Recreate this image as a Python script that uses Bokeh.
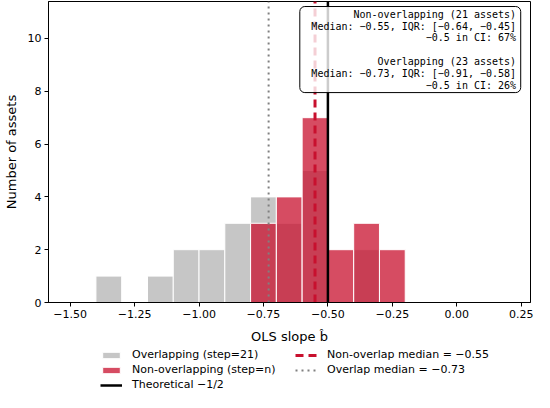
from bokeh.plotting import figure
from bokeh.layouts import column
from bokeh.models import Range1d, FixedTicker, BoxAnnotation, Label, Legend, LegendItem, ColumnDataSource
from bokeh.embed import file_html
from bokeh.resources import INLINE

# ---- data ----
bin_edges = [-1.4, -1.3, -1.2, -1.1, -1.0, -0.9, -0.8, -0.7, -0.6, -0.5, -0.4, -0.3, -0.2]
overlap_counts = [1, 0, 1, 2, 2, 3, 4, 3, 5, 0, 2, 0]
nonoverlap_counts = [0, 0, 0, 0, 0, 0, 3, 4, 7, 2, 3, 2]
median_nonoverlap = -0.55
median_overlap = -0.73
theoretical = -0.5
x_ticks = [-1.5, -1.25, -1.0, -0.75, -0.5, -0.25, 0.0, 0.25]
x_tick_labels = ["\u22121.50", "\u22121.25", "\u22121.00", "\u22120.75", "\u22120.50", "\u22120.25", "0.00", "0.25"]
y_ticks = [0, 2, 4, 6, 8, 10]
y_max = 11.4
summary_lines = [
    "Non-overlapping (21 assets)",
    "Median: \u22120.55, IQR: [\u22120.64, \u22120.45]",
    "\u22120.5 in CI: 67%",
    "",
    "Overlapping (23 assets)",
    "Median: \u22120.73, IQR: [\u22120.91, \u22120.58]",
    "\u22120.5 in CI: 26%",
]
legend_labels = [
    "Overlapping (step=21)",
    "Non-overlapping (step=n)",
    "Theoretical \u22121/2",
    "Non-overlap median = \u22120.55",
    "Overlap median = \u22120.73",
]

FONT = "DejaVu Sans"
RED = "#c8102e"
GRAY_LINE = "#808080"
DOT = "2 4"
DASH = "8 5"


def bars(counts):
    left, right, top = [], [], []
    for i, c in enumerate(counts):
        if c > 0:
            left.append(bin_edges[i])
            right.append(bin_edges[i + 1])
            top.append(c)
    return ColumnDataSource(dict(left=left, right=right, top=top, bottom=[0] * len(top)))


def vline(x):
    return ColumnDataSource(dict(x0=[x], x1=[x], y0=[0], y1=[y_max]))


src_over = bars(overlap_counts)
src_non = bars(nonoverlap_counts)
src_overmed = vline(median_overlap)
src_nonmed = vline(median_nonoverlap)
src_theo = vline(theoretical)


def draw(fig):
    ro = fig.quad(left="left", right="right", top="top", bottom="bottom", source=src_over,
                  fill_color="#808080", fill_alpha=0.45, line_color="white", line_width=1)
    rn = fig.quad(left="left", right="right", top="top", bottom="bottom", source=src_non,
                  fill_color=RED, fill_alpha=0.75, line_color="white", line_width=1)
    lo = fig.segment(x0="x0", x1="x1", y0="y0", y1="y1", source=src_overmed,
                     line_color=GRAY_LINE, line_width=2, line_dash=DOT)
    ln = fig.segment(x0="x0", x1="x1", y0="y0", y1="y1", source=src_nonmed,
                     line_color=RED, line_width=3, line_dash=DASH)
    lt = fig.segment(x0="x0", x1="x1", y0="y0", y1="y1", source=src_theo,
                     line_color="black", line_width=2.5)
    return ro, rn, lt, ln, lo


p = figure(width=534, height=346, output_backend="svg", toolbar_location=None,
           x_range=Range1d(-1.584, 0.286), y_range=Range1d(0, y_max),
           min_border_left=0, min_border_right=4, min_border_top=1, min_border_bottom=0)
draw(p)

# summary box
p.add_layout(BoxAnnotation(left=-0.609, right=0.248, top=11.21, bottom=7.95,
                           fill_color="white", fill_alpha=0.8, line_color="black",
                           line_alpha=1, line_width=1, border_radius=5))
line_y = [10.92, 10.47, 10.02, 9.57, 9.12, 8.67, 8.22]
for txt, yy in zip(summary_lines, line_y):
    if txt:
        p.add_layout(Label(x=0.230, y=yy, text=txt, text_align="right", text_baseline="middle",
                           text_font="DejaVu Sans Mono", text_font_size="10px", text_color="black"))

# axes
p.xgrid.visible = False
p.ygrid.visible = False
p.outline_line_color = "black"
p.outline_line_alpha = 1
p.xaxis.ticker = FixedTicker(ticks=x_ticks)
p.xaxis.major_label_overrides = {t: l for t, l in zip(x_ticks, x_tick_labels)}
p.yaxis.ticker = FixedTicker(ticks=y_ticks)
for ax in (p.xaxis, p.yaxis):
    ax.axis_line_color = "black"
    ax.major_tick_line_color = "black"
    ax.minor_tick_line_color = None
    ax.major_tick_out = 4
    ax.major_tick_in = 0
    ax.major_label_text_font = FONT
    ax.major_label_text_font_size = "11px"
    ax.major_label_text_color = "black"
    ax.axis_label_text_font = FONT
    ax.axis_label_text_font_size = "13px"
    ax.axis_label_text_font_style = "normal"
    ax.axis_label_text_color = "black"
    ax.major_label_standoff = 3
p.xaxis.axis_label = "OLS slope b\u0302"
p.yaxis.axis_label = "Number of assets"
p.xaxis.axis_label_standoff = 8
p.yaxis.axis_label_standoff = 6

# legend strip below the axes (same styled renderers, out of its view)
lf = figure(width=534, height=46, output_backend="svg", toolbar_location=None,
            x_range=Range1d(10, 11), y_range=Range1d(10, 11),
            x_axis_location=None, y_axis_location=None, min_border=0)
lf.xgrid.visible = False
lf.ygrid.visible = False
lf.outline_line_color = None
rends = draw(lf)

legend = Legend(items=[LegendItem(label=lab, renderers=[r]) for lab, r in zip(legend_labels, rends)],
                orientation="vertical", ncols=2, location=(51, 0))
legend.label_text_font = FONT
legend.label_text_font_size = "11px"
legend.label_text_color = "black"
legend.label_height = 13
legend.label_width = 161
legend.glyph_height = 8
legend.glyph_width = 22
legend.label_standoff = 10
legend.spacing = 2
legend.padding = 1
legend.margin = 0
legend.border_line_alpha = 0
legend.background_fill_alpha = 0
lf.add_layout(legend, "center")

open("out.html", "w").write(file_html(column(p, lf), INLINE))
